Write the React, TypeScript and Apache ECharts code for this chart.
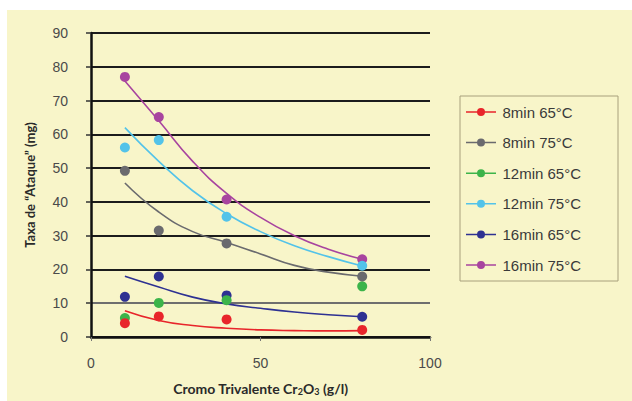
import React, { useEffect, useRef } from "react";
import * as echarts from "echarts";

// ---- data ----
const xValues = [10, 20, 40, 80];
const seriesNames = ["8min 65°C", "8min 75°C", "12min 65°C", "12min 75°C", "16min 65°C", "16min 75°C"];
const seriesColors = ["#e8252b", "#6a6a6e", "#3cb44a", "#53c3e9", "#2e3192", "#a8449f"];

const red8m65 = [4.1, 6.1, 5.2, 2.1];
const gray8m75 = [49.2, 31.5, 27.7, 17.9];
const green12m65 = [5.6, 10.1, 10.9, 15.0];
const cyan12m75 = [56.1, 58.3, 35.6, 21.1];
const blue16m65 = [11.9, 17.9, 12.3, 6.0];
const magenta16m75 = [77.0, 65.1, 40.7, 23.0];

// trend lines (no trend line for 12min 65°C)
const trendX = [10, 20, 30, 40, 50, 60, 70, 80];
const redTrend = [7.8, 4.9, 3.4, 2.6, 2.1, 1.9, 1.8, 1.9];
const grayTrend = [45.6, 37.0, 31.2, 28.0, 24.6, 21.2, 19.2, 18.0];
const greenTrend: number[] = [];
const cyanTrend = [62.0, 52.0, 43.3, 36.5, 31.2, 27.0, 23.8, 21.0];
const blueTrend = [18.0, 14.8, 11.8, 9.8, 8.5, 7.4, 6.6, 6.0];
const magentaTrend = [75.8, 64.0, 52.0, 42.5, 35.4, 30.0, 26.0, 23.0];

const yTicks = [0, 10, 20, 30, 40, 50, 60, 70, 80, 90];
const xTicks = [0, 50, 100];

const pointSets = [red8m65, gray8m75, green12m65, cyan12m75, blue16m65, magenta16m75];
const trendSets = [redTrend, grayTrend, greenTrend, cyanTrend, blueTrend, magentaTrend];

const legendIcon =
  "path://M0,3.25 L30,3.25 L30,4.75 L0,4.75 Z M19,4 A4,4 0 1,1 11,4 A4,4 0 1,1 19,4 Z";

export default function App() {
  const ref = useRef<HTMLDivElement>(null);
  useEffect(() => {
    document.body.style.margin = "0";
    const chart = echarts.init(ref.current as HTMLDivElement, null, { renderer: "svg" });

    const trendSeries: any[] = [];
    trendSets.forEach((t, i) => {
      if (!t.length) return;
      trendSeries.push({
        type: "line",
        name: seriesNames[i] + " trend",
        data: trendX.map((x, k) => [x, t[k]]),
        smooth: true,
        showSymbol: false,
        silent: true,
        lineStyle: { color: seriesColors[i], width: 1.6 },
        z: 3,
      });
    });
    const pointSeries: any[] = [];
    for (let i = pointSets.length - 1; i >= 0; i--) {
      pointSeries.push({
        type: "scatter",
        name: seriesNames[i],
        data: xValues.map((x, k) => [x, pointSets[i][k]]),
        symbol: "circle",
        symbolSize: 10,
        itemStyle: { color: seriesColors[i], opacity: 1 },
        z: 4,
      });
    }

    const gridColors = yTicks.map((v) => (v === 10 ? "#6e6e6e" : "#1c1c1c"));

    chart.setOption({
      animation: false,
      backgroundColor: "#f8f5c9",
      textStyle: { fontFamily: "Liberation Sans" },
      grid: { left: 91, right: 202, top: 33, bottom: 58, containLabel: false },
      xAxis: {
        type: "value",
        min: xTicks[0],
        max: xTicks[xTicks.length - 1],
        interval: 50,
        name: "Cromo Trivalente Cr{sub|2}O{sub|3} (g/l)",
        nameLocation: "middle",
        nameGap: 43,
        nameTextStyle: {
          fontFamily: "Lato",
          fontWeight: "bold",
          fontSize: 14,
          color: "#2a2a2a",
          rich: {
            sub: { fontFamily: "Lato", fontWeight: "bold", fontSize: 9, color: "#2a2a2a", padding: [7, 0, 0, 0] },
          },
        },
        axisLine: { show: true, onZero: false, lineStyle: { color: "#111", width: 2.5 } },
        axisTick: { show: true, inside: false, length: 4, lineStyle: { color: "#777", width: 1 } },
        axisLabel: { margin: 19, fontSize: 14, color: "#4a4a4a", fontFamily: "Liberation Sans" },
        splitLine: { show: false },
      },
      yAxis: {
        type: "value",
        min: yTicks[0],
        max: yTicks[yTicks.length - 1],
        interval: 10,
        name: "Taxa de “Ataque” (mg)",
        nameLocation: "middle",
        nameGap: 55,
        nameRotate: 90,
        nameTextStyle: { fontFamily: "Lato", fontWeight: "bold", fontSize: 13, color: "#2a2a2a" },
        axisLine: { show: true, lineStyle: { color: "#111", width: 2.5 } },
        axisTick: { show: true, inside: false, length: 5, lineStyle: { color: "#333", width: 1.5 } },
        axisLabel: { margin: 23, fontSize: 14, color: "#4a4a4a", fontFamily: "Liberation Sans" },
        splitLine: { show: true, lineStyle: { color: gridColors, width: 2.2 } },
      },
      legend: {
        data: seriesNames.map((n) => ({ name: n, icon: legendIcon })),
        orient: "vertical",
        left: 466,
        top: 104,
        padding: 0,
        itemWidth: 33,
        itemHeight: 8,
        itemGap: 14.6,
        textStyle: { fontFamily: "Liberation Sans", fontSize: 15, color: "#3a3a3a", lineHeight: 16, padding: [0, 0, 0, 0] },
        selectedMode: false,
      },
      graphic: [
        { type: "rect", shape: { x: 0, y: 0, width: 632, height: 10 }, style: { fill: "#ffffff" }, silent: true },
        { type: "rect", shape: { x: 0, y: 0, width: 7, height: 401 }, style: { fill: "#ffffff" }, silent: true },
        {
          type: "rect",
          shape: { x: 460, y: 96, width: 158, height: 185 },
          style: { fill: "none", stroke: "#a8a07c", lineWidth: 1 },
          silent: true,
        },
      ],
      series: [...trendSeries, ...pointSeries],
    });
    return () => chart.dispose();
  }, []);
  return <div ref={ref} style={{ width: 632, height: 401 }} />;
}
